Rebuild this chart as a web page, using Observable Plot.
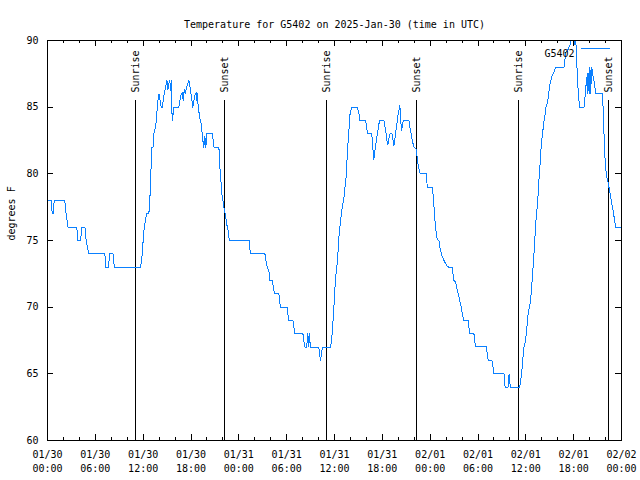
<!DOCTYPE html>
<html><head><meta charset="utf-8">
<script src="https://cdn.jsdelivr.net/npm/d3@7"></script>
<script src="https://cdn.jsdelivr.net/npm/@observablehq/plot@0.6"></script>
<style>body{margin:0;background:#fff}</style>
</head><body><div id="chart"></div>
<script>
// Hours since 2025-01-30 00:00 UTC, and temperature (degrees F)
const hours = [0,0.45,0.6,0.7,0.85,2.17,2.33,2.45,2.58,3.68,3.8,4.15,4.3,4.7,4.85,5.18,7.2,7.3,7.65,7.8,8.22,8.38,11.67,
11.79,11.88,12.0,12.13,12.3,12.42,12.72,12.8,12.88,12.96,13.09,13.25,13.34,13.55,13.64,13.72,13.76,
13.84,14.0,14.26,14.39,14.51,14.64,14.81,14.98,15.1,15.23,15.35,15.43,15.52,15.64,15.73,15.82,16.48,16.61,16.77,16.9,17.02,17.15,17.27,17.44,17.61,17.73,17.86,17.98,18.11,18.23,18.36,18.53,18.65,18.74,18.82,18.9,19.03,19.15,19.28,19.4,19.53,19.61,19.74,19.86,19.99,20.7,20.87,21.5,21.62,21.75,21.87,22.0,22.12,22.29,22.42,22.55,22.67,22.8,
25.3,25.45,27.27,27.4,27.57,27.77,27.9,28.19,28.4,28.48,29.03,29.11,29.23,30.07,30.2,30.28,30.78,30.91,31.03,32.04,32.16,32.29,32.5,32.66,32.79,32.83,33.0,34.04,34.13,34.25,34.42,34.55,35.51,35.63,35.76,35.88,36.01,36.14,36.26,36.43,36.55,36.76,36.97,
37.18,37.3,37.48,37.6,37.73,37.85,37.93,38.1,38.23,38.86,38.98,39.11,39.19,39.9,40.03,40.15,40.65,40.78,40.86,40.94,41.03,41.15,41.28,41.45,41.57,41.7,42.2,42.32,42.45,42.53,42.7,42.82,42.95,43.2,43.32,43.45,43.57,43.7,43.83,43.95,44.08,44.2,44.29,44.38,44.5,44.63,45.34,45.46,45.63,45.76,45.96,46.17,46.3,46.38,46.51,46.64,46.76,47.51,47.64,48.26,48.35,48.47,
48.6,48.72,48.89,49.1,49.22,49.31,49.45,49.56,49.73,49.95,50.15,50.36,50.78,50.9,50.98,51.19,51.4,51.61,51.74,51.9,52.11,52.24,52.78,52.86,52.95,53.49,53.58,53.7,55.04,55.17,55.29,55.75,55.88,56.0,57.26,57.4,57.76,57.9,58.05,59.22,59.35,59.47,59.6,59.76,59.97,60.1,60.23,60.35,60.44,60.6,60.73,60.85,61.02,61.14,61.27,61.44,
61.56,61.65,61.77,61.86,61.98,62.11,62.27,62.4,62.52,62.7,62.82,62.95,63.07,63.2,63.32,63.53,63.74,64.78,64.91,64.99,65.2,65.41,65.62,65.75,66.04,66.16,66.25,66.37,66.58,66.75,67.29,67.38,67.5,67.63,67.72,67.79,67.88,67.96,68.04,68.13,68.26,68.38,68.55,68.67,68.76,69.6,69.67,69.76,69.84,69.93,70.01,70.14,70.35,70.48,70.64,70.77,70.93,71.06,71.27,71.9];
const tempsF = [78,78,77,77,78,78,77,76.5,76,76,75,75,76,76,75,74,74,73,73,74,74,73,73,
73.5,74,75,76,76.5,77,77,78,78.5,80,82,82,83,83.5,84,84.5,85,
85.5,86,85,85,85.5,86,86.5,87,86.3,86.8,87,86.25,87,84,84.3,85,85,85.5,86,86.1,85.5,86.3,86,86.5,86.75,87,86.6,86.1,85.5,85,85.5,86,86.1,85.5,86,85,84.5,84,83.8,83,82.3,82,82.8,82,83,83,82,82,80.5,79.5,78.5,78,77.5,77,76.5,76,75.7,75,
75,74,74,73.5,73,72.75,72,72,71.25,71,71,70.5,70,70,69.25,69,69,68.5,68,68,67.4,67,67,68,67,68,67,67,66.5,66,66.75,67,67,67.5,68.5,69.5,71,72.25,72.75,74,75.25,76.5,77.5,
78.2,78.9,79.9,81.4,82.6,83.6,84.4,84.9,85,85,84.75,84.4,84,84,83.5,83,83,82.4,81.5,81.1,81.5,82.1,82.6,83.25,83.75,84,84,83.6,83.1,82.6,82.2,82.6,83,83,82.6,82.1,82.6,83.25,83.75,84.4,84.75,85.1,84.4,83.25,83.5,84,84,83.5,83,82.5,82,81.9,81.75,81.1,80.6,80.25,80,80,79,79,78.5,77.6,
76.5,75.75,75.1,75,74.5,74.25,73.9,73.75,73.5,73.25,73.05,73,73,72.25,72,71.9,71.25,70.75,70.4,70,69.25,69,69,68.5,68,68,67.5,67.05,67.05,66.5,66,66,65.5,65,65,64,64,65,64,64,64.5,65,66,67,67.5,68.25,69.25,69.75,70,70.5,71.5,72.5,74,75.25,76.5,77.6,
78.6,79.6,80.6,81.5,82.4,83.1,83.9,84.4,85,85.3,85.8,86.4,86.9,87.1,87.4,87.6,88,88,88.6,89.1,89.2,89.5,89.8,90.2,90.5,89.7,90.3,88.5,86,85,85,85.4,86.4,87,87.5,86,87.5,86,88,86,88,87.5,87,86.5,86,86,85.3,83.8,82.4,81.2,80.5,79.8,79.3,78.8,78.3,77.8,77.3,76.8,76,76];
const sunriseHours = [11.1, 35.05, 59.12];
const sunsetHours = [22.22, 46.32, 70.4];
const xTickHours = [0,6,12,18,24,30,36,42,48,54,60,66,72];
const xTickLabels = ["01/30\n00:00","01/30\n06:00","01/30\n12:00","01/30\n18:00","01/31\n00:00","01/31\n06:00","01/31\n12:00","01/31\n18:00","02/01\n00:00","02/01\n06:00","02/01\n12:00","02/01\n18:00","02/02\n00:00"];
const xMinorHours = [2,4,8,10,14,16,20,22,26,28,32,34,38,40,44,46,50,52,56,58,62,64,68,70];
const yTicks = [60,65,70,75,80,85,90];
const titleText = "Temperature for G5402 on 2025-Jan-30 (time in UTC)";
const yLabel = "degrees F";
const seriesName = "G5402";

const lineColor = "#0a80ff";
const font = "DejaVu Sans Mono";
const idx = d3.range(hours.length);
const sunEvents = [...sunriseHours.map(h => ({h, label: "Sunrise"})), ...sunsetHours.map(h => ({h, label: "Sunset"}))];

const W = 640, H = 480, mL = 47, mR = 19, mT = 40, mB = 40;
const fw = W - mL - mR, fh = H - mT - mB;
const crisp = {shapeRendering: "crispEdges"};

const chart = Plot.plot({
  width: W, height: H,
  marginLeft: mL, marginRight: mR, marginTop: mT, marginBottom: mB,
  style: {fontFamily: font, fontSize: "10px", background: "white", color: "black"},
  x: {domain: [0, 72], axis: null},
  y: {domain: [60, 90], axis: null},
  marks: [
    Plot.ruleX(sunEvents, {x: "h", y1: 60, y2: 85.5, stroke: "black", strokeWidth: 1, ...crisp}),
    Plot.text(sunEvents, {x: "h", y: 86.1, text: "label", rotate: -90, textAnchor: "start", fill: "black", fontSize: 10}),
    Plot.line(idx, {x: i => hours[i], y: i => tempsF[i], stroke: lineColor, strokeWidth: 1, clip: true, ...crisp}),
    // ticks (inward, mirrored)
    Plot.ruleX(xTickHours, {x: d => d, insetTop: fh - 6, stroke: "black", ...crisp}),
    Plot.ruleX(xTickHours, {x: d => d, insetBottom: fh - 6, stroke: "black", ...crisp}),
    Plot.ruleX(xMinorHours, {x: d => d, insetTop: fh - 3, stroke: "black", ...crisp}),
    Plot.ruleX(xMinorHours, {x: d => d, insetBottom: fh - 3, stroke: "black", ...crisp}),
    Plot.ruleY(yTicks, {y: d => d, insetRight: fw - 6, stroke: "black", ...crisp}),
    Plot.ruleY(yTicks, {y: d => d, insetLeft: fw - 6, stroke: "black", ...crisp}),
    Plot.frame({stroke: "black", strokeWidth: 1, ...crisp}),
    // tick labels
    Plot.text(yTicks, {y: d => d, text: d => String(d), frameAnchor: "left", dx: -9, textAnchor: "end", fill: "black"}),
    Plot.text(xTickHours, {x: d => d, text: (d, i) => xTickLabels[i], frameAnchor: "bottom", dy: 8, lineAnchor: "top", lineHeight: 1.4, fill: "black"}),
    // title, axis label, legend text
    Plot.text([titleText], {frameAnchor: "top", dy: -20, text: d => d, fill: "black"}),
    Plot.text([yLabel], {frameAnchor: "left", dx: -36, rotate: -90, text: d => d, fill: "black"}),
    Plot.text([seriesName], {frameAnchor: "top-right", dx: -47, dy: 9, textAnchor: "end", text: d => d, fill: "black"})
  ]
});
// legend sample line
d3.select(chart).append("line")
  .attr("x1", 581).attr("x2", 610).attr("y1", 48.5).attr("y2", 48.5)
  .attr("stroke", lineColor).attr("stroke-width", 1).attr("shape-rendering", "crispEdges");
document.getElementById("chart").appendChild(chart);
</script>
</body></html>
